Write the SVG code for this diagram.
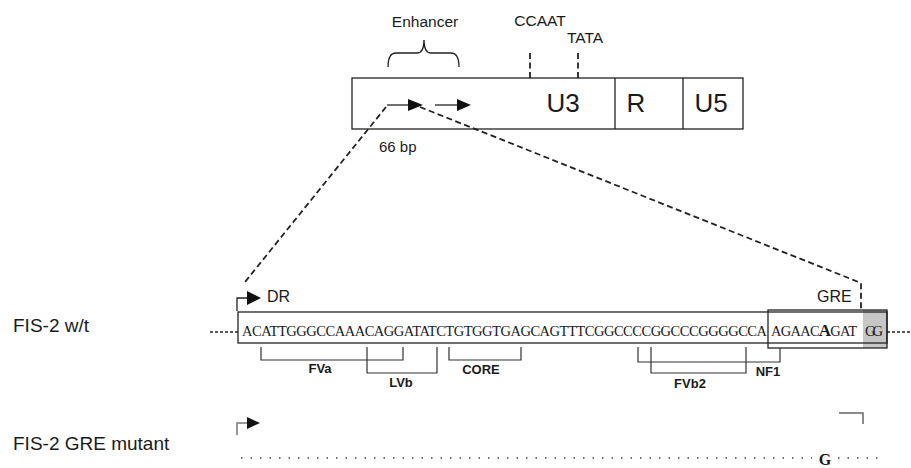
<svg xmlns="http://www.w3.org/2000/svg" width="911" height="468" viewBox="0 0 911 468">
<defs>
<style>
.sans{font-family:"Liberation Sans",Arial,sans-serif;fill:#1a1a1a}
.serif{font-family:"Liberation Serif","Times New Roman",serif;fill:#1a1a1a}
.ln{stroke:#222;stroke-width:1.3;fill:none}
.dash{stroke:#222;stroke-width:1.8;fill:none;stroke-dasharray:6 3.5}
.br{stroke:#333;stroke-width:1.2;fill:none}
.head{fill:#111}
</style>
</defs>
<rect width="911" height="468" fill="#fff"/>

<g id="ltr">
<rect x="352" y="78" width="391" height="51" class="ln"/>
<line x1="615" y1="78" x2="615" y2="129" class="ln"/>
<line x1="683" y1="78" x2="683" y2="129" class="ln"/>
<text x="563" y="112" class="sans" font-size="26" text-anchor="middle">U3</text>
<text x="636" y="112" class="sans" font-size="26" text-anchor="middle">R</text>
<text x="711" y="112" class="sans" font-size="26" text-anchor="middle">U5</text>
<line x1="387" y1="105" x2="409" y2="105" class="ln" stroke-width="1.7"/>
<polygon points="408,99 423,105 408,111" class="head"/>
<line x1="435" y1="105" x2="458" y2="105" class="ln" stroke-width="1.7"/>
<polygon points="457,99 471,105 457,111" class="head"/>
<text x="379" y="152" class="sans" font-size="15">66 bp</text>
</g>

<g id="enhancer">
<path d="M388,67 Q388,53 396,53 L417,53 Q424,53 424,40 Q424,53 431,53 L451,53 Q459,53 459,67" class="ln" stroke-width="1.5"/>
<text x="425" y="27" class="sans" font-size="15.5" text-anchor="middle">Enhancer</text>
</g>

<g id="ccaat">
<line x1="530" y1="53" x2="530" y2="78" class="dash" stroke-dasharray="4 3"/>
<text x="540" y="26" class="sans" font-size="15.5" text-anchor="middle">CCAAT</text>
</g>

<g id="tata">
<line x1="578" y1="53" x2="578" y2="78" class="dash" stroke-dasharray="4 3"/>
<text x="585" y="43" class="sans" font-size="15.5" text-anchor="middle">TATA</text>
</g>

<g id="connectors">
<polyline points="386,107 245,282" class="dash"/>
<polyline points="420,107 861,283 861,309" class="dash"/>
</g>

<g id="wt-label">
<text x="13" y="332" class="sans" font-size="19">FIS-2 w/t</text>
</g>

<g id="wt-seq">
<line x1="210" y1="332" x2="238" y2="332" class="ln" stroke-dasharray="3 2" stroke-width="1.1"/>
<line x1="887" y1="332" x2="911" y2="332" class="ln" stroke-dasharray="3 2" stroke-width="1.1"/>
<rect x="863" y="310" width="24" height="38" fill="#c6c6c6"/>
<rect x="768" y="310" width="119" height="38" class="ln"/>
<rect x="238" y="312" width="649" height="31" class="ln" stroke-width="1"/>
<polyline points="237,311 237,298 248,298" class="ln" stroke-width="1.7"/>
<polygon points="247,291 261,298 247,305" class="head"/>
<text x="267" y="302" class="sans" font-size="16">DR</text>
<text x="817" y="302" class="sans" font-size="16">GRE</text>
<text x="242" y="336" class="serif" font-size="14.5" textLength="525" lengthAdjust="spacing">ACATTGGGCCAAACAGGATATCTGTGGTGAGCAGTTTCGGCCCCGGCCCGGGGCCA</text>
<text x="771" y="336" class="serif" font-size="14.5" textLength="86" lengthAdjust="spacing">AGAAC<tspan font-weight="bold" font-size="17">A</tspan>GAT</text>
<text x="865" y="336" class="serif" font-size="14.5" textLength="18" lengthAdjust="spacing">GG</text>
</g>

<g id="brackets">
<polyline points="261,347 261,360 403,360 403,347" class="br"/>
<text x="320" y="373" class="sans" font-size="13" font-weight="bold" text-anchor="middle">FVa</text>
<polyline points="367,347 367,373 437,373 437,347" class="br"/>
<text x="401" y="387" class="sans" font-size="13" font-weight="bold" text-anchor="middle">LVb</text>
<polyline points="449,347 449,360 521,360 521,347" class="br"/>
<text x="481" y="374" class="sans" font-size="13" font-weight="bold" text-anchor="middle">CORE</text>
<polyline points="638,347 638,362 780,362 780,348" class="br"/>
<text x="768" y="376" class="sans" font-size="13" font-weight="bold" text-anchor="middle">NF1</text>
<polyline points="651,347 651,373 746,373 746,347" class="br"/>
<text x="690" y="388" class="sans" font-size="13" font-weight="bold" text-anchor="middle">FVb2</text>
</g>

<g id="mutant">
<text x="13" y="450" class="sans" font-size="19">FIS-2 GRE mutant</text>
<polyline points="237,435 237,423 248,423" stroke="#777" stroke-width="1.5" fill="none"/>
<polygon points="247,417 260,423 247,429" class="head"/>
<polyline points="839,413 863,413 863,424" stroke="#666" stroke-width="1.5" fill="none"/>
<line x1="241" y1="458" x2="812" y2="458" stroke="#444" stroke-width="1.5" stroke-dasharray="1.5 8"/>
<text x="825" y="465" class="serif" font-size="16" font-weight="bold" text-anchor="middle">G</text>
<line x1="838" y1="458" x2="884" y2="458" stroke="#444" stroke-width="1.5" stroke-dasharray="1.5 8"/>
</g>
</svg>
